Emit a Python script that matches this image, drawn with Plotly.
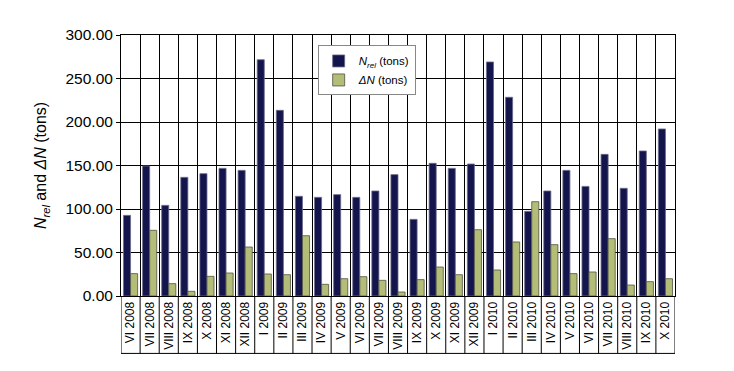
import plotly.graph_objects as go

categories = ["VI 2008", "VII 2008", "VIII 2008", "IX 2008", "X 2008", "XI 2008", "XII 2008",
              "I 2009", "II 2009", "III 2009", "IV 2009", "V 2009", "VI 2009", "VII 2009",
              "VIII 2009", "IX 2009", "X 2009", "XI 2009", "XII 2009", "I 2010", "II 2010",
              "III 2010", "IV 2010", "V 2010", "VI 2010", "VII 2010", "VIII 2010", "IX 2010",
              "X 2010"]
n_rel = [92.7, 149.4, 104.2, 136.4, 140.6, 146.7, 144.4, 271.6, 213.4, 114.6, 113.4, 116.5,
         113.4, 120.7, 139.5, 88.1, 152.5, 146.7, 151.7, 269.0, 228.4, 97.3, 120.7, 144.4,
         126.0, 162.8, 123.8, 166.7, 192.0]
delta_n = [25.7, 75.5, 14.2, 5.4, 22.6, 26.4, 56.3, 25.3, 24.5, 69.3, 13.4, 19.9, 22.2, 18.0,
           4.6, 18.8, 33.3, 24.5, 76.2, 29.9, 62.1, 108.4, 59.0, 25.7, 27.6, 65.9, 12.6, 16.5,
           19.9]
y_ticks = [0, 50, 100, 150, 200, 250, 300]

FONT = "Liberation Sans, Arial, sans-serif"

fig = go.Figure()
fig.add_trace(go.Bar(
    x=categories, y=n_rel, name="<i>N</i><sub><i>rel</i></sub> (tons)",
    marker=dict(color="#15154d", line=dict(color="#6a6a8a", width=0.8)),
))
fig.add_trace(go.Bar(
    x=categories, y=delta_n, name="<i>ΔN</i> (tons)",
    marker=dict(color="#b3bd78", line=dict(color="#505040", width=0.8)),
))

# table-like boxes under the category axis
box_depth = -0.22
shapes = []
for i in range(len(categories) + 1):
    shapes.append(dict(type="line", xref="x", yref="paper", x0=i - 0.5, x1=i - 0.5,
                       y0=box_depth, y1=0, line=dict(color="black", width=1)))
shapes.append(dict(type="line", xref="x", yref="paper", x0=-0.5, x1=len(categories) - 0.5,
                   y0=box_depth, y1=box_depth, line=dict(color="black", width=1)))

fig.update_layout(
    width=734, height=371,
    margin=dict(l=113, r=67, t=27, b=83),
    paper_bgcolor="white", plot_bgcolor="white",
    font=dict(family=FONT, color="black"),
    barmode="group", bargap=0.26, bargroupgap=0.0,
    showlegend=True,
    legend=dict(x=0.355, y=0.96, xanchor="left", yanchor="top",
                bgcolor="white", bordercolor="#888888", borderwidth=1,
                font=dict(size=11.5, family=FONT), tracegroupgap=4,
                itemwidth=30),
    shapes=shapes,
    xaxis=dict(
        type="category", tickson="boundaries", showgrid=True, gridcolor="black", gridwidth=1,
        ticks="", tickangle=-90, tickfont=dict(size=12, family=FONT),
        showline=True, linecolor="black", linewidth=1, mirror=True,
        range=[-0.5, len(categories) - 0.5],
    ),
    yaxis=dict(
        range=[0, 300], tickvals=y_ticks, tickformat=".2f",
        showgrid=True, gridcolor="black", gridwidth=1,
        showline=True, linecolor="black", linewidth=1, mirror=True,
        ticks="outside", ticklen=4, tickcolor="black",
        tickfont=dict(size=15.5, family=FONT), zeroline=False,
        title=dict(text="<i>N</i><sub><i>rel</i></sub> and <i>ΔN</i> (tons)",
                   font=dict(size=16, family=FONT), standoff=14),
    ),
)

fig.write_html("out.html")
